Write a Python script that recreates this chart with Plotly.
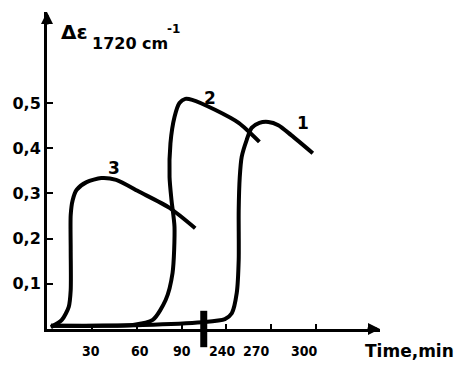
import plotly.graph_objects as go

# --- data -------------------------------------------------------------
# Time axis is broken between ~110 and ~225 min; times after the break are
# shifted left so that 240 min sits right after the break mark.
BREAK_START = 110.0
BREAK_SHIFT = 120.5

tick_times = [30, 60, 90, 240, 270, 300]
tick_text = ["30", "60", "90", "240", "270", "300"]

y_tick_vals = [0.1, 0.2, 0.3, 0.4, 0.5]
y_tick_text = ["0,1", "0,2", "0,3", "0,4", "0,5"]

# curve 3
t3 = [2.6, 9.9, 14.5, 15.8, 15.8, 15.8, 17.1, 19.8, 26.4, 36.2, 46.1, 61.9, 81.7, 98.8]
d3 = [0.004, 0.020, 0.049, 0.086, 0.175, 0.252, 0.285, 0.308, 0.325, 0.334, 0.330,
      0.303, 0.268, 0.223]

# curve 2
t2 = [2.6, 37.5, 57.3, 70.5, 79.1, 83.7, 85.0, 83.0, 81.7, 82.3, 85.0, 88.3, 92.2,
      96.8, 232.5, 248.3, 262.1]
d2 = [0.007, 0.007, 0.009, 0.020, 0.064, 0.124, 0.226, 0.285, 0.336, 0.411, 0.469,
      0.500, 0.509, 0.507, 0.485, 0.456, 0.414]

# curve 1
t1 = [2.6, 63.9, 103.4, 239.1, 243.7, 247.0, 248.3, 248.3, 249.0, 250.3, 253.6,
      256.9, 262.1, 268.1, 274.7, 283.3, 297.7]
d1 = [0.007, 0.009, 0.015, 0.022, 0.035, 0.080, 0.153, 0.263, 0.336, 0.381, 0.418,
      0.445, 0.456, 0.458, 0.451, 0.429, 0.389]

curve_names = ["1", "2", "3"]
curve_label_times = [291.0, 108.7, 44.8]
curve_label_vals = [0.456, 0.511, 0.356]

break_time = 104.5


def axis_pos(t):
    """Map a time in minutes onto the broken axis."""
    return t if t < BREAK_START else t - BREAK_SHIFT


# --- styling ----------------------------------------------------------
INK = "black"
HAND = "DejaVu Sans, sans-serif"
NARROW = "DejaVu Sans Condensed, DejaVu Sans, sans-serif"
W, H = 464, 365
ML, MR, MT, MB = 43, 84, 12, 36
PX_PER_MIN = 1.518
PX_PER_UNIT = 452.0
x_max = (W - ML - MR) / PX_PER_MIN
y_max = (H - MT - MB) / PX_PER_UNIT

fig = go.Figure()

for t, d in [(t3, d3), (t2, d2), (t1, d1)]:
    fig.add_trace(go.Scatter(
        x=[axis_pos(v) for v in t], y=d, mode="lines",
        line=dict(color=INK, width=4, shape="spline", smoothing=0.7),
        hoverinfo="skip", showlegend=False))

# break mark on the time axis
fig.add_trace(go.Scatter(
    x=[break_time], y=[0.0], mode="markers", cliponaxis=False,
    marker=dict(symbol="line-ns", size=26, line=dict(color=INK, width=7)),
    hoverinfo="skip", showlegend=False))

fig.update_layout(
    width=W, height=H,
    margin=dict(l=ML, r=MR, t=MT, b=MB, pad=0),
    paper_bgcolor="white", plot_bgcolor="white",
    xaxis=dict(range=[0, x_max], showgrid=False, zeroline=False,
               showline=True, linecolor=INK, linewidth=3,
               tickmode="array", tickvals=[axis_pos(v) for v in tick_times],
               ticktext=["" for _ in tick_times],
               ticks="inside", ticklen=5, tickwidth=2, tickcolor=INK),
    yaxis=dict(range=[0, y_max], showgrid=False, zeroline=False,
               showline=True, linecolor=INK, linewidth=3,
               tickmode="array", tickvals=y_tick_vals, ticktext=y_tick_text,
               ticks="inside", ticklen=6, tickwidth=2, tickcolor=INK,
               tickfont=dict(family=HAND, size=16, color=INK, weight="bold")),
)

# x tick labels, hand-placed slightly off their ticks
x_label_nudge = [-1, 3, 0, -4, -15, -12]
for t, txt, dx in zip(tick_times, tick_text, x_label_nudge):
    fig.add_annotation(x=axis_pos(t), y=0, xref="x", yref="y", text=txt,
                       showarrow=False, xanchor="center", yanchor="top",
                       xshift=dx, yshift=-12,
                       font=dict(family=NARROW, size=14, color=INK, weight="bold"))

# curve numbers
for name, t, v in zip(curve_names, curve_label_times, curve_label_vals):
    fig.add_annotation(x=axis_pos(t), y=v, text=name, showarrow=False,
                       font=dict(family=HAND, size=17, color=INK, weight="bold"))

# axis titles
fig.add_annotation(xref="paper", yref="paper", x=1.0, y=0, xanchor="left",
                   yanchor="top", xshift=-17, yshift=-10, text="Time,min",
                   showarrow=False,
                   font=dict(family=HAND, size=17, color=INK, weight="bold"))
fig.add_annotation(xref="paper", yref="paper", x=0.0356, y=0.937,
                   xanchor="left", yanchor="middle", text="Δε", showarrow=False,
                   font=dict(family=HAND, size=20, color=INK, weight="bold"))
fig.add_annotation(xref="paper", yref="paper", x=0.1306, y=0.902,
                   xanchor="left", yanchor="middle", text="1720 cm",
                   showarrow=False,
                   font=dict(family=HAND, size=16, color=INK, weight="bold"))
fig.add_annotation(xref="paper", yref="paper", x=0.355, y=0.945,
                   xanchor="left", yanchor="middle", text="-1", showarrow=False,
                   font=dict(family=HAND, size=12, color=INK, weight="bold"))

# arrow heads on both axes
fig.add_annotation(xref="paper", yref="paper", x=1.0, y=0.0, ax=-14, ay=0,
                   showarrow=True, arrowhead=2, arrowsize=0.8, arrowwidth=3,
                   arrowcolor=INK, text="")
fig.add_annotation(xref="paper", yref="paper", x=0.0, y=1.0, ax=0, ay=14,
                   showarrow=True, arrowhead=2, arrowsize=0.8, arrowwidth=3,
                   arrowcolor=INK, text="")

fig.write_html("out.html")
